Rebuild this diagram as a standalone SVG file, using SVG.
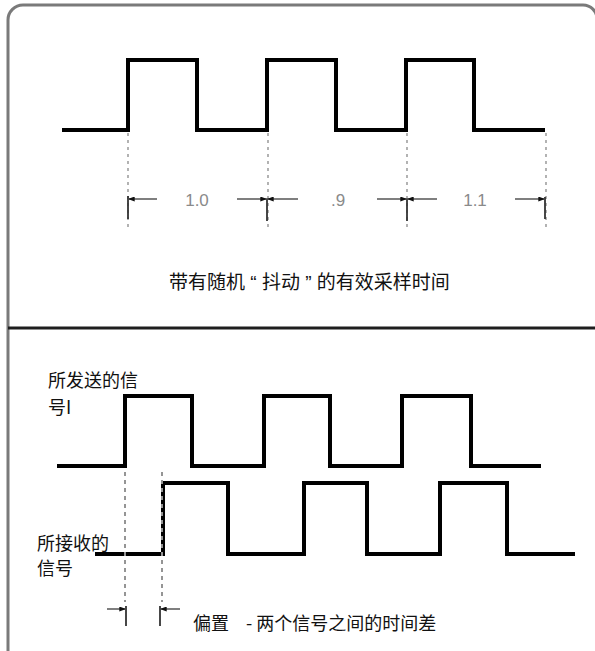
<svg xmlns="http://www.w3.org/2000/svg" width="595" height="651" viewBox="0 0 595 651">
<style>
.frame{fill:none;stroke:#7a7a7a;stroke-width:3}
.divider{fill:none;stroke:#1e1e1e;stroke-width:3}
.wave{fill:none;stroke:#000;stroke-width:4;stroke-linejoin:miter;stroke-linecap:butt}
.dashT{stroke:#a0a0a0;stroke-width:1.6;stroke-dasharray:3 4}
.dashB{stroke:#959595;stroke-width:2;stroke-dasharray:4 4}
.dim{stroke:#555;stroke-width:1.5;fill:none}
.tick{stroke:#333;stroke-width:1.8}
.num{font-family:"Liberation Sans",Arial,sans-serif;font-size:17px;fill:#8a8a8a}
.cjk{font-family:"Noto Sans CJK SC","Noto Sans",sans-serif;font-size:18px;fill:#111}
.cap{font-size:19px}
.lat{font-family:"Liberation Sans",Arial,sans-serif}
</style>
<defs>
<marker id="ah" viewBox="0 0 8 6" refX="8" refY="3" markerWidth="7" markerHeight="5" markerUnits="userSpaceOnUse" orient="auto">
<path d="M0,0 L8,3 L0,6 Z" fill="#111"/>
</marker>
</defs>
<rect x="0" y="0" width="595" height="651" fill="#fff"/>
<g id="frame">
<path class="frame" d="M8,651 V20 A15,15 0 0 1 23,5 H583 A14,14 0 0 1 597,19 V651"/>
<line class="divider" x1="8" y1="328" x2="597" y2="328"/>
</g>
<g id="jitter-signal">
<polyline class="wave" points="62,130 128,130 128,60 197,60 197,130 267,130 267,60 336,60 336,130 406,130 406,60 474,60 474,130 545,130"/>
</g>
<g id="sent-signal">
<polyline class="wave" points="57,466 125,466 125,396 192,396 192,466 264,466 264,396 330,396 330,466 402,466 402,396 471,396 471,466 541,466"/>
<text class="cjk" x="48" y="387">所发送的信</text>
<text class="cjk" x="48" y="414">号I</text>
</g>
<g id="received-signal">
<polyline class="wave" points="95,554 163,554 163,483 228,483 228,554 304,554 304,483 367,483 367,554 440,554 440,483 507,483 507,554 575,554"/>
<text class="cjk" x="37" y="550">所接收的</text>
<text class="cjk" x="37" y="575">信号</text>
</g>
<g id="connectors">
<line class="dashT" x1="128" y1="133" x2="128" y2="227"/>
<line class="dashT" x1="268" y1="133" x2="268" y2="227"/>
<line class="dashT" x1="407" y1="133" x2="407" y2="227"/>
<line class="dashT" x1="546" y1="133" x2="546" y2="227"/>
<line class="tick" x1="128" y1="196" x2="128" y2="219"/>
<line class="tick" x1="267" y1="199" x2="267" y2="221"/>
<line class="tick" x1="407" y1="199" x2="407" y2="221"/>
<line class="tick" x1="545" y1="197" x2="545" y2="219"/>
<line class="dim" x1="157" y1="199" x2="128" y2="199" marker-end="url(#ah)"/>
<line class="dim" x1="237" y1="199" x2="267" y2="199" marker-end="url(#ah)"/>
<line class="dim" x1="298" y1="199" x2="267" y2="199" marker-end="url(#ah)"/>
<line class="dim" x1="377" y1="199" x2="407" y2="199" marker-end="url(#ah)"/>
<line class="dim" x1="437" y1="199" x2="407" y2="199" marker-end="url(#ah)"/>
<line class="dim" x1="515" y1="199" x2="545" y2="199" marker-end="url(#ah)"/>
<line class="dashB" x1="125" y1="472" x2="125" y2="602"/>
<line class="dashB" x1="162" y1="472" x2="162" y2="602"/>
<line class="tick" x1="126" y1="606" x2="126" y2="626"/>
<line class="tick" x1="160" y1="606" x2="160" y2="626"/>
<line class="dim" x1="107" y1="609" x2="126" y2="609" marker-end="url(#ah)"/>
<line class="dim" x1="180" y1="609" x2="160" y2="609" marker-end="url(#ah)"/>
</g>
<g id="labels">
<text class="num" x="197" y="206" text-anchor="middle">1.0</text>
<text class="num" x="338" y="206" text-anchor="middle">.9</text>
<text class="num" x="475" y="206" text-anchor="middle">1.1</text>
<text class="cjk cap" x="169" y="289">带有随机<tspan class="lat" xml:space="preserve"> “ </tspan>抖动<tspan class="lat" xml:space="preserve"> ” </tspan>的有效采样时间</text>
<text class="cjk" y="630"><tspan x="193">偏置</tspan><tspan x="246">- 两个信号之间的时间差</tspan></text>
</g>
</svg>
